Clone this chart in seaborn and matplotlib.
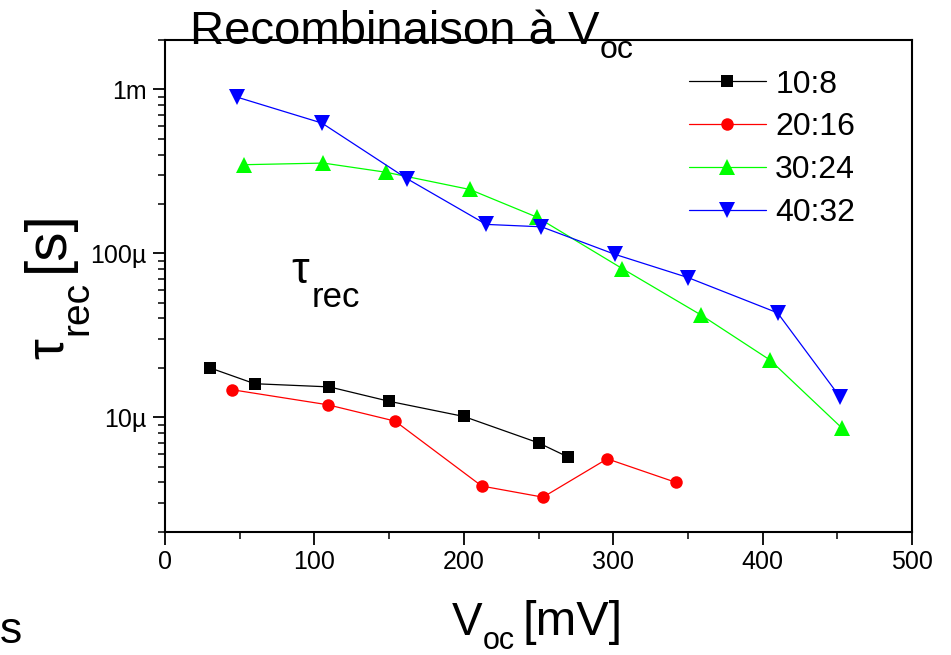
import matplotlib
matplotlib.use('Agg')
import matplotlib.pyplot as plt
import matplotlib.ticker as mticker
import seaborn as sns
import pandas as pd

# data (Voc in mV, tau_rec in s)
labels = ['10:8', '20:16', '30:24', '40:32']
voc_10_8 = [30, 60, 110, 150, 200, 250, 270]
tau_10_8 = [2.0e-5, 1.60e-5, 1.53e-5, 1.25e-5, 1.01e-5, 6.97e-6, 5.7e-6]
voc_20_16 = [45, 109, 154, 212, 253, 296, 342]
tau_20_16 = [1.47e-5, 1.19e-5, 9.46e-6, 3.8e-6, 3.25e-6, 5.57e-6, 4.0e-6]
voc_30_24 = [53, 106, 148, 204, 249, 306, 359, 405, 453]
tau_30_24 = [3.47e-4, 3.55e-4, 3.12e-4, 2.45e-4, 1.66e-4, 8.07e-5, 4.19e-5, 2.23e-5, 8.6e-6]
voc_40_32 = [48, 105, 162, 215, 252, 301, 350, 410, 452]
tau_40_32 = [8.98e-4, 6.23e-4, 2.85e-4, 1.50e-4, 1.45e-4, 9.86e-5, 7.11e-5, 4.33e-5, 1.32e-5]

ytick_vals = [1e-5, 1e-4, 1e-3]
ytick_labels = ['10µ', '100µ', '1m']

sns.set_style('white')
plt.rcParams['font.family'] = ['Liberation Sans', 'DejaVu Sans']
for k in ['text.color', 'axes.labelcolor', 'xtick.color', 'ytick.color']:
    plt.rcParams[k] = 'black'

W, H = 951, 655
fig = plt.figure(figsize=(W / 100, H / 100), dpi=100)
ax = fig.add_axes([0.1735, 0.1882, 0.7855, 0.7507])

series = [
    (voc_10_8, tau_10_8, 'black', 's', 8.5),
    (voc_20_16, tau_20_16, 'red', 'o', 9),
    (voc_30_24, tau_30_24, '#00ff00', '^', 11),
    (voc_40_32, tau_40_32, 'blue', 'v', 11),
]
for (x, y, c, m, ms), lab in zip(series, labels):
    df = pd.DataFrame({'voc': x, 'tau': y})
    sns.lineplot(data=df, x='voc', y='tau', ax=ax, color=c, marker=m,
                 markersize=ms, markeredgewidth=0, linewidth=0.9,
                 label=lab, sort=False)

ax.set_yscale('log')
ax.set_xlim(0, 500)
ax.set_ylim(2e-6, 2e-3)

ax.xaxis.set_major_locator(mticker.MultipleLocator(100))
ax.xaxis.set_minor_locator(mticker.MultipleLocator(50))
ax.yaxis.set_major_locator(mticker.FixedLocator(ytick_vals))
ax.yaxis.set_major_formatter(mticker.FixedFormatter(ytick_labels))
ax.yaxis.set_minor_locator(mticker.LogLocator(base=10, subs=range(2, 10)))
ax.yaxis.set_minor_formatter(mticker.NullFormatter())

ax.tick_params(axis='both', which='major', direction='out', length=9, width=1.3,
               labelsize=18, bottom=True, left=True, top=False, right=False, pad=4)
ax.tick_params(axis='both', which='minor', direction='out', length=5, width=1.1,
               bottom=True, left=True, top=False, right=False)
for sp in ax.spines.values():
    sp.set_linewidth(1.5)
    sp.set_color('black')
ax.set_xlabel('')
ax.set_ylabel('')

renderer = fig.canvas.get_renderer()


def put(s, x, y, size, rot=0):
    # x, y in pixels from top-left; anchor = start of baseline
    return fig.text(x / W, 1 - y / H, s, fontsize=size, ha='left', va='baseline',
                    rotation=rot, rotation_mode='anchor')


def after(t, s, y, size, gap=0):
    # place s right after text t, baseline at y
    x_end = t.get_window_extent(renderer).x1
    return put(s, x_end + gap, y, size)


# title
t = put('Recombinaison à V', 190, 44, 34)
after(t, 'oc', 58, 23)
# x label
t = put('V', 452, 635, 33)
t = after(t, 'oc', 649, 22)
after(t, '[mV]', 635, 35, gap=8)
# y label (rotated)
put('τ', 63, 359, 38, rot=90)
put('rec', 87, 335, 28, rot=90)
put('[s]', 63, 272, 42, rot=90)
# annotation inside the plot
put('τ', 291, 283, 32)
put('rec', 312, 307, 25)
# fragment at bottom left
put('s', 0, 643, 32)

ax.legend(loc='upper right', frameon=False, fontsize=23, numpoints=1,
          handlelength=2.4, handletextpad=0.3, labelspacing=0.4,
          bbox_to_anchor=(0.941, 0.966), borderaxespad=0)

fig.savefig('out.png', dpi=100)
